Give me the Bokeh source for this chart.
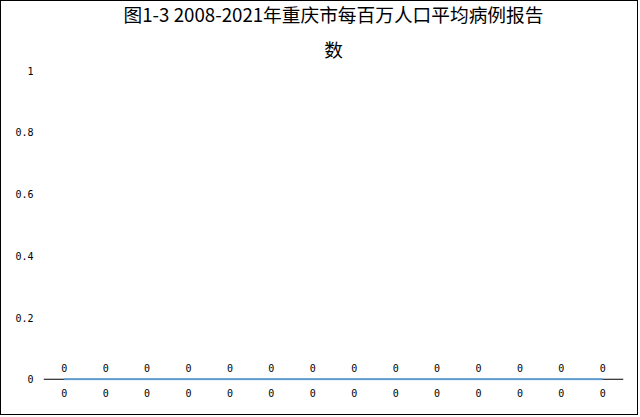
from bokeh.plotting import figure
from bokeh.models import ColumnDataSource, FixedTicker, Range1d, LabelSet, Title, Span
from bokeh.core.properties import value
from bokeh.embed import file_html
from bokeh.resources import INLINE

years = ["2008", "2009", "2010", "2011", "2012", "2013", "2014", "2015",
         "2016", "2017", "2018", "2019", "2020", "2021"]
cases_per_million = [0, 0, 0, 0, 0, 0, 0, 0, 0, 0, 0, 0, 0, 0]
x_tick_labels = ["0"] * len(years)
y_ticks = [0, 0.2, 0.4, 0.6, 0.8, 1]
y_tick_labels = ["0", "0.2", "0.4", "0.6", "0.8", "1"]
title_line1 = "图1-3 2008-2021年重庆市每百万人口平均病例报告"
title_line2 = "数"

xs = list(range(len(years)))
src = ColumnDataSource(dict(x=xs, y=cases_per_million,
                            lab=[str(v) for v in cases_per_million]))

p = figure(width=638, height=415, output_backend="svg", toolbar_location=None,
           x_range=Range1d(-0.5, len(years) - 0.5), y_range=Range1d(-0.004, 1),
           min_border_left=42, min_border_right=16, min_border_bottom=36,
           min_border_top=69, title_location=None)
p.styles = {"border": "1px solid black"}
p.outline_line_color = None
p.xgrid.visible = False
p.ygrid.visible = False

p.add_layout(Title(text=title_line2, align="center", text_font="Noto Sans CJK SC",
                   text_font_size="18.7px", text_font_style="normal",
                   text_color="#000000", standoff=18, offset=-14), "above")
p.add_layout(Title(text=title_line1, align="center", text_font="Noto Sans CJK SC",
                   text_font_size="18.7px", text_font_style="normal",
                   text_color="#000000", standoff=-7, offset=-14), "above")

p.add_layout(Span(location=0, dimension="width", line_color="#000000",
                  line_width=1, level="underlay"))
p.line("x", "y", source=src, line_color="#5B9BD5", line_width=2)
labels = LabelSet(x="x", y="y", text="lab", source=src, text_align="center",
                  text_baseline="bottom", y_offset=7, text_font_size="10px",
                  text_font=value("DejaVu Sans Mono"), text_color="#000000")
p.add_layout(labels)

p.xaxis.ticker = FixedTicker(ticks=xs)
p.xaxis.major_label_overrides = {i: t for i, t in enumerate(x_tick_labels)}
p.xaxis.major_tick_out = 0
p.xaxis.major_tick_in = 0
p.xaxis.major_tick_line_color = None
p.xaxis.minor_tick_line_color = None
p.xaxis.axis_line_color = None
p.xaxis.major_label_text_font = "DejaVu Sans Mono"
p.xaxis.major_label_text_font_size = "10px"
p.xaxis.major_label_text_color = "#000000"
p.xaxis.major_label_standoff = 8

p.yaxis.ticker = FixedTicker(ticks=y_ticks)
p.yaxis.major_label_overrides = {t: l for t, l in zip(y_ticks, y_tick_labels)}
p.yaxis.axis_line_color = None
p.yaxis.major_tick_out = 0
p.yaxis.major_tick_in = 0
p.yaxis.major_tick_line_color = None
p.yaxis.minor_tick_line_color = None
p.yaxis.major_label_text_font = "DejaVu Sans Mono"
p.yaxis.major_label_text_font_size = "10px"
p.yaxis.major_label_text_color = "#000000"
p.yaxis.major_label_standoff = 10

open("out.html", "w").write(file_html(p, INLINE))
